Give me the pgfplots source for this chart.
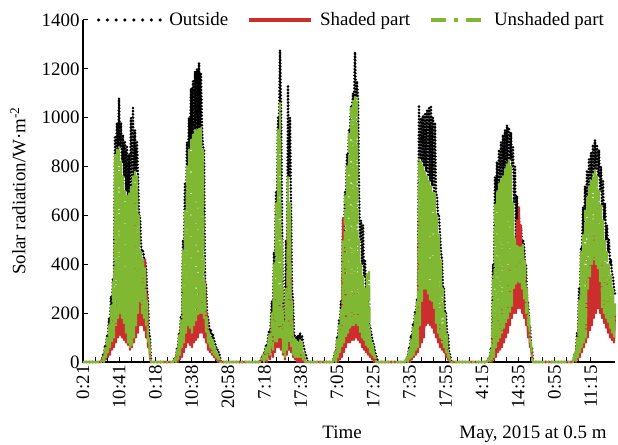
\documentclass[border=0pt]{standalone}
\usepackage{fontspec}
\setmainfont{Liberation Serif}
\usepackage{pgfplots}
\usepackage{pgfplotstable}
\pgfplotsset{compat=1.18}

\definecolor{sred}{RGB}{204,46,46}
\definecolor{sgreen}{RGB}{128,184,52}

% x = horizontal position (one step = one sample), rows alternate high / low
\pgfplotstableread{
x blk red grn
0 0 0 0
18 0 0 0
20 30 20 20
21 20 0 0
22 70 50 60
23 60 10 20
24 110 80 100
25 100 20 40
26 180 110 150
27 150 30 60
28 270 150 230
29 230 50 80
30 340 180 330
31 330 60 100
32 920 220 850
33 850 80 150
34 980 260 870
35 870 100 180
36 1080 280 880
37 880 110 200
38 980 250 820
39 820 100 180
40 930 230 760
41 760 90 160
42 900 200 700
43 700 80 120
44 880 200 680
45 680 70 80
46 850 300 690
47 690 50 60
48 1000 450 720
49 720 60 70
50 1040 640 760
51 760 80 100
52 950 650 780
53 780 100 150
54 900 420 760
55 760 120 200
56 600 380 600
57 600 150 250
58 480 400 450
59 450 150 200
60 460 420 420
61 420 130 180
62 420 420 390
63 390 100 150
64 300 280 250
65 250 60 80
66 120 100 100
67 100 20 30
68 0 0 0
90 0 0 0
92 20 10 15
93 15 0 0
94 60 40 50
95 50 0 10
96 120 80 110
97 110 10 30
98 190 150 170
99 170 20 60
100 500 200 460
101 460 40 80
102 730 220 620
103 620 60 120
104 900 200 800
105 800 80 150
106 1000 170 870
107 870 70 140
108 1120 150 910
109 910 60 120
110 1150 180 930
111 930 80 150
112 1190 200 950
113 950 90 170
114 1200 240 950
115 950 100 190
116 1224 300 955
117 955 120 200
118 1180 330 958
119 958 120 200
120 880 330 870
121 870 100 180
122 330 330 320
123 320 80 120
124 200 200 180
125 180 50 80
126 150 120 120
127 120 40 60
128 130 80 100
129 100 30 40
130 110 60 90
131 90 20 30
132 80 40 60
133 60 10 20
134 60 30 40
135 40 0 10
136 40 15 20
137 20 0 0
138 0 0 0
177 0 0 0
180 30 20 30
181 30 0 0
183 70 50 60
184 60 0 10
186 130 90 110
187 110 10 30
189 250 150 200
190 200 20 50
191 450 230 400
192 400 40 80
193 700 280 650
194 650 60 80
195 1000 300 950
196 950 60 100
197 1277 250 1060
198 1060 50 100
199 600 200 500
200 200 30 40
201 180 150 160
202 150 10 20
203 500 300 300
204 300 30 50
205 1134 600 757
206 757 50 80
207 1000 594 650
208 650 40 60
209 300 200 250
210 250 20 30
211 120 80 100
212 100 10 20
213 100 60 90
214 90 0 20
215 110 50 80
216 80 0 20
217 120 60 90
218 90 0 20
219 110 40 80
220 80 0 10
221 60 20 40
222 40 0 0
225 0 0 0
250 0 0 0
252 40 30 40
253 40 0 0
254 100 60 90
255 90 0 20
256 170 100 150
257 150 10 40
258 250 150 220
259 220 20 60
260 580 590 500
261 500 40 80
262 700 500 680
263 680 60 100
264 850 300 800
265 800 80 120
266 950 250 940
267 940 80 140
268 1050 250 1040
269 1040 90 150
270 1100 280 1070
271 1070 90 150
272 1269 300 1085
273 1085 100 160
274 1150 280 1080
275 1080 90 150
276 700 250 500
277 500 80 120
278 580 200 400
279 400 60 100
280 560 180 350
281 350 50 90
282 420 150 300
283 300 40 70
284 300 130 360
285 300 30 60
286 150 110 370
287 150 20 40
288 120 80 100
289 100 10 30
290 80 50 70
291 70 0 20
292 40 20 30
293 30 0 0
295 0 0 0
322 0 0 0
324 20 10 20
325 20 0 0
326 60 40 50
327 50 0 10
328 110 70 90
329 90 10 20
330 160 110 140
331 140 20 30
332 210 150 190
333 190 30 50
334 260 180 250
335 250 40 60
336 1052 590 830
337 830 60 150
338 1000 500 820
339 820 80 250
340 1010 400 800
341 800 100 300
342 1020 350 780
343 780 150 300
344 1030 330 760
345 760 160 280
346 1040 320 740
347 740 150 250
348 1044 330 720
349 720 140 250
350 1000 300 700
351 700 120 220
352 980 270 690
353 690 100 160
354 680 220 600
355 600 80 120
356 600 180 520
357 520 60 100
358 450 150 420
359 420 50 80
360 300 120 300
361 300 40 60
362 200 90 200
363 200 20 40
364 120 50 110
365 110 10 20
366 40 20 30
367 30 0 0
368 0 0 0
404 0 0 0
406 20 15 20
407 20 0 0
408 60 40 50
409 50 0 10
410 400 120 350
411 350 10 20
412 757 180 650
413 650 20 60
414 820 200 700
415 700 40 80
416 870 220 730
417 730 50 100
418 900 250 750
419 750 60 120
420 930 280 760
421 760 80 140
422 950 300 790
423 790 100 160
424 970 350 810
425 810 120 180
426 960 380 827
427 827 150 200
428 940 420 800
429 800 180 230
430 880 450 650
431 650 200 300
432 800 500 500
433 500 200 320
434 680 580 480
435 480 220 330
436 600 634 470
437 470 220 320
438 550 560 470
439 470 200 300
440 500 480 480
441 480 180 260
442 400 380 420
443 400 150 200
444 250 250 300
445 250 100 150
446 150 150 200
447 150 60 80
448 60 60 80
449 60 20 20
450 0 0 0
490 0 0 0
492 40 30 40
493 40 0 0
494 120 80 100
495 100 10 20
496 300 150 250
497 250 20 40
498 470 200 450
499 450 40 60
500 634 250 520
501 520 60 80
502 720 300 620
503 620 80 100
504 786 350 680
505 680 100 300
506 830 420 720
507 720 130 350
508 856 480 745
509 745 150 400
510 890 560 770
511 770 180 420
512 909 600 786
513 786 200 400
514 890 634 760
515 760 220 380
516 868 550 700
517 700 200 330
518 800 480 640
519 640 180 220
520 740 420 580
521 580 160 200
522 651 380 500
523 500 140 180
524 560 320 450
525 450 120 160
526 500 280 400
527 400 100 140
528 420 250 360
529 360 90 120
530 350 220 300
531 300 80 100
532 280 200 240
}\data

\begin{document}
\begin{tikzpicture}
\begin{axis}[
    scale only axis,
    width=532bp, height=342bp,
    xmin=0, xmax=532, ymin=0, ymax=1400,
    clip=false,
    axis lines*=left,
    axis line style={line width=1.2bp},
    tick align=inside,
    tick style={black, line width=1bp},
    major tick length=5bp, minor tick length=5bp,
    xtick={0,36.27,...,508},
    xticklabels={0:21,10:41,0:18,10:38,20:58,7:18,17:38,7:05,17:25,7:35,17:55,4:15,14:35,0:55,11:15},
    minor x tick num=2,
    ytick={0,200,...,1400},
    xticklabel style={rotate=90, anchor=east},
    /pgf/number format/assume math mode=true,
    /pgf/number format/1000 sep={},
    font=\fontsize{19}{22}\selectfont,
    legend columns=3,
    legend style={draw=none, fill=none, at={(axis description cs:0.02,1)}, anchor=west,
        /tikz/every odd column/.append style={column sep=5bp},
        /tikz/every even column/.append style={column sep=17bp}},
]
\addplot[black, line width=2.8bp, line cap=round, line join=round,
    dash pattern=on 0bp off 3.2bp,
    legend image code/.code={\draw[black, line width=3.5bp, line cap=round, dash pattern=on 0bp off 8.8bp] (0bp,0bp) -- (62bp,0bp);}]
    table[x=x, y=blk] {\data};
\addlegendentry{Outside}
\addplot[sred, line width=2.2bp, line join=round,
    legend image code/.code={\draw[sred, line width=4bp] (0bp,0bp) -- (62bp,0bp);}]
    table[x=x, y=red] {\data};
\addlegendentry{Shaded part}
\addplot[sgreen, line width=2.2bp, line join=round,
    dash pattern=on 16bp off 1.5bp on 2.5bp off 1.5bp,
    legend image code/.code={\draw[sgreen, line width=4bp, dash pattern=on 15bp off 8bp on 4bp off 8bp] (0bp,0bp) -- (54bp,0bp);}]
    table[x=x, y=grn] {\data};
\addlegendentry{Unshaded part}
\end{axis}
\node[rotate=90, font=\fontsize{19}{22}\selectfont] at ([xshift=-65bp]current axis.west) {Solar radiation/W·m\textsuperscript{-2}};
\node[anchor=base, font=\fontsize{19}{22}\selectfont] at ([xshift=-7bp, yshift=-76bp]current axis.south) {Time};
\node[anchor=base east, font=\fontsize{19}{22}\selectfont] at ([xshift=-5bp, yshift=-76bp]current axis.south east) {May, 2015 at 0.5 m};
\pgfresetboundingbox
\useasboundingbox ([shift={(-83bp,-83bp)}]current axis.south west) rectangle ([shift={(3bp,20bp)}]current axis.north east);
\end{tikzpicture}
\end{document}
